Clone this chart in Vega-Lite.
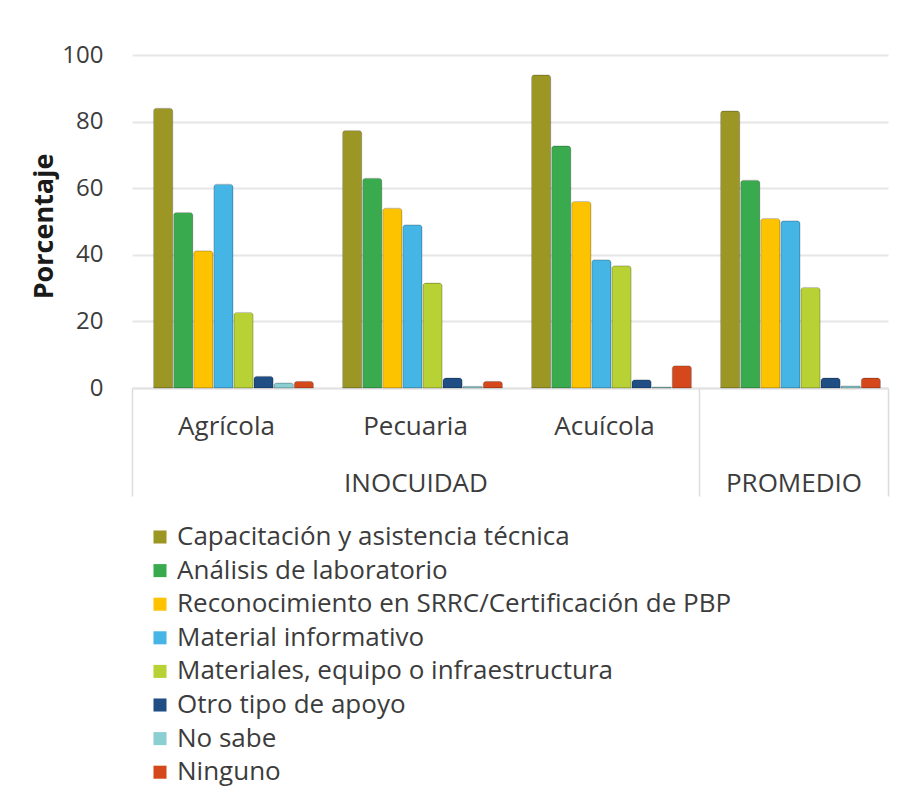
{
  "$schema": "https://vega.github.io/schema/vega-lite/v6.json",
  "width": 756,
  "height": 333,
  "autosize": {"type": "none"},
  "padding": {"left": 132, "top": 55, "right": 32, "bottom": 419},
  "background": "white",
  "config": {
    "font": "Open Sans",
    "view": {"stroke": null}
  },
  "datasets": {
    "apoyos": [
      {"cat": "Agrícola", "serie": "Capacitación y asistencia técnica", "valor": 84},
      {"cat": "Agrícola", "serie": "Análisis de laboratorio", "valor": 52.7},
      {"cat": "Agrícola", "serie": "Reconocimiento en SRRC/Certificación de PBP", "valor": 41.2},
      {"cat": "Agrícola", "serie": "Material informativo", "valor": 61.2},
      {"cat": "Agrícola", "serie": "Materiales, equipo o infraestructura", "valor": 22.7},
      {"cat": "Agrícola", "serie": "Otro tipo de apoyo", "valor": 3.5},
      {"cat": "Agrícola", "serie": "No sabe", "valor": 1.5},
      {"cat": "Agrícola", "serie": "Ninguno", "valor": 2},
      {"cat": "Pecuaria", "serie": "Capacitación y asistencia técnica", "valor": 77.3},
      {"cat": "Pecuaria", "serie": "Análisis de laboratorio", "valor": 63},
      {"cat": "Pecuaria", "serie": "Reconocimiento en SRRC/Certificación de PBP", "valor": 54},
      {"cat": "Pecuaria", "serie": "Material informativo", "valor": 49},
      {"cat": "Pecuaria", "serie": "Materiales, equipo o infraestructura", "valor": 31.5},
      {"cat": "Pecuaria", "serie": "Otro tipo de apoyo", "valor": 3},
      {"cat": "Pecuaria", "serie": "No sabe", "valor": 0.5},
      {"cat": "Pecuaria", "serie": "Ninguno", "valor": 2},
      {"cat": "Acuícola", "serie": "Capacitación y asistencia técnica", "valor": 94},
      {"cat": "Acuícola", "serie": "Análisis de laboratorio", "valor": 72.7},
      {"cat": "Acuícola", "serie": "Reconocimiento en SRRC/Certificación de PBP", "valor": 56},
      {"cat": "Acuícola", "serie": "Material informativo", "valor": 38.5},
      {"cat": "Acuícola", "serie": "Materiales, equipo o infraestructura", "valor": 36.7},
      {"cat": "Acuícola", "serie": "Otro tipo de apoyo", "valor": 2.5},
      {"cat": "Acuícola", "serie": "No sabe", "valor": 0.3},
      {"cat": "Acuícola", "serie": "Ninguno", "valor": 6.7},
      {"cat": "Promedio", "serie": "Capacitación y asistencia técnica", "valor": 83.2},
      {"cat": "Promedio", "serie": "Análisis de laboratorio", "valor": 62.4},
      {"cat": "Promedio", "serie": "Reconocimiento en SRRC/Certificación de PBP", "valor": 50.9},
      {"cat": "Promedio", "serie": "Material informativo", "valor": 50.2},
      {"cat": "Promedio", "serie": "Materiales, equipo o infraestructura", "valor": 30.2},
      {"cat": "Promedio", "serie": "Otro tipo de apoyo", "valor": 3},
      {"cat": "Promedio", "serie": "No sabe", "valor": 0.6},
      {"cat": "Promedio", "serie": "Ninguno", "valor": 3}
    ],
    "grupos": [
      {"grupo": "INOCUIDAD", "centro": 1.5},
      {"grupo": "PROMEDIO", "centro": 3.5}
    ]
  },
  "layer": [
    {
      "data": {"name": "apoyos"},
      "mark": {"type": "bar", "cornerRadiusTopLeft": 3, "cornerRadiusTopRight": 3, "stroke": "#000000", "strokeOpacity": 0.18, "strokeWidth": 1},
      "encoding": {
        "x": {
          "field": "cat",
          "type": "nominal",
          "sort": ["Agrícola", "Pecuaria", "Acuícola", "Promedio"],
          "scale": {"paddingInner": 0.153, "paddingOuter": 0.0765},
          "axis": {
            "title": null,
            "labelAngle": 0,
            "labelExpr": "datum.value == 'Promedio' ? '' : datum.value",
            "labelFontSize": 26,
            "labelColor": "#3c3c3c",
            "labelPadding": 25,
            "ticks": false,
            "domain": true,
            "domainColor": "#e3e3e3",
            "domainWidth": 2,
            "grid": false
          }
        },
        "xOffset": {
          "field": "serie",
          "type": "nominal",
          "sort": ["Capacitación y asistencia técnica", "Análisis de laboratorio", "Reconocimiento en SRRC/Certificación de PBP", "Material informativo", "Materiales, equipo o infraestructura", "Otro tipo de apoyo", "No sabe", "Ninguno"],
          "scale": {"paddingInner": 0.04, "range": [7, 167]}
        },
        "y": {
          "field": "valor",
          "type": "quantitative",
          "scale": {"domain": [0, 100], "nice": false},
          "axis": {
            "title": "Porcentaje",
            "titleFontSize": 27,
            "titleFontWeight": "bold",
            "titleColor": "#1a1a1a",
            "titleX": -88,
            "titleY": 171,
            "titleAngle": 270,
            "titleAlign": "center",
            "titleBaseline": "middle",
            "values": [0, 20, 40, 60, 80, 100],
            "labelFontSize": 24,
            "labelColor": "#3c3c3c",
            "labelPadding": 29,
            "ticks": false,
            "domain": false,
            "grid": true,
            "gridColor": "#e6e6e6",
            "gridWidth": 2
          }
        },
        "color": {
          "field": "serie",
          "type": "nominal",
          "scale": {
            "domain": ["Capacitación y asistencia técnica", "Análisis de laboratorio", "Reconocimiento en SRRC/Certificación de PBP", "Material informativo", "Materiales, equipo o infraestructura", "Otro tipo de apoyo", "No sabe", "Ninguno"],
            "range": ["#9c9625", "#3aaa4e", "#fdc300", "#45b5e6", "#b8d235", "#1f4e85", "#8ccfd3", "#d4481c"]
          },
          "legend": {
            "title": null,
            "orient": "none",
            "legendX": 15,
            "legendY": 469,
            "direction": "vertical",
            "symbolType": "square",
            "symbolSize": 170,
            "symbolStrokeWidth": 0,
            "labelFontSize": 26,
            "labelColor": "#3c3c3c",
            "labelLimit": 700,
            "labelOffset": 4,
            "rowPadding": 7.6
          }
        }
      }
    },
    {
      "data": {"name": "grupos"},
      "mark": {"type": "point", "opacity": 0},
      "encoding": {
        "x": {
          "field": "centro",
          "type": "quantitative",
          "scale": {"domain": [0, 4], "nice": false, "zero": false},
          "axis": {
            "orient": "bottom",
            "title": null,
            "values": [0, 1.5, 3, 3.5, 4],
            "labelExpr": "datum.value == 1.5 ? 'INOCUIDAD' : (datum.value == 3.5 ? 'PROMEDIO' : '')",
            "labelFontSize": 26,
            "labelColor": "#3c3c3c",
            "labelPadding": -26,
            "ticks": true,
            "tickSize": 108,
            "tickWidth": 1.5,
            "tickColor": {"condition": {"test": "datum.value == 1.5 || datum.value == 3.5", "value": "transparent"}, "value": "#dcdcdc"},
            "domain": false,
            "grid": false
          }
        }
      }
    }
  ],
  "resolve": {"scale": {"x": "independent"}, "axis": {"x": "independent"}}
}
